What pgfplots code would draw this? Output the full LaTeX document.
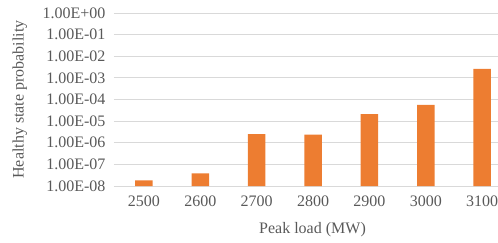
\documentclass[border=0pt]{standalone}
\usepackage{fontspec}
\setmainfont{Liberation Serif}
\usepackage{pgfplots}
\pgfplotsset{compat=1.18}
\definecolor{barorange}{HTML}{ED7D31}
\definecolor{gridgray}{HTML}{D9D9D9}
\definecolor{textgray}{HTML}{595959}
\begin{document}
\begin{tikzpicture}
\begin{axis}[
  scale only axis,
  width=384pt, height=173pt,
  ymode=log, log origin y=infty,
  ymin=1e-8, ymax=1,
  xmin=-0.53, xmax=6.28,
  ybar, bar width=17.5pt,
  ytick={1e-8,1e-7,1e-6,1e-5,1e-4,1e-3,1e-2,1e-1,1},
  yticklabels={1.00E-08,1.00E-07,1.00E-06,1.00E-05,1.00E-04,1.00E-03,1.00E-02,1.00E-01,1.00E+00},
  yminorticks=false,
  xtick={0,1,2,3,4,5,6},
  xticklabels={2500,2600,2700,2800,2900,3000,3100},
  ymajorgrids, grid style={gridgray, line width=0.8pt},
  axis x line*=bottom, axis y line*=left,
  x axis line style={gridgray, line width=0.8pt, -},
  y axis line style={draw=none},
  major tick length=0pt,
  tick label style={font=\fontsize{16}{18}\selectfont, text=textgray},
  xticklabel style={overlay, yshift=-6pt},
  yticklabel style={xshift=-5pt},
  xlabel={Peak load (MW)},
  ylabel={Healthy state probability},
  every axis x label/.style={at={(axis description cs:0.517,-0.254)}, anchor=center, font=\fontsize{16}{18}\selectfont, text=textgray},
  every axis y label/.style={at={(axis description cs:-0.245,0.5)}, rotate=90, anchor=center, font=\fontsize{16}{18}\selectfont, text=textgray},
]
\addplot[fill=barorange, draw=none] coordinates {
(0,1.8e-8) (1,3.8e-8) (2,2.5e-6) (3,2.4e-6) (4,2.1e-5) (5,5.6e-5) (6,2.6e-3)};
\end{axis}
\pgfresetboundingbox
\path (current axis.south west) ++(-114pt,-56pt) rectangle ++(498pt,242pt);
\end{tikzpicture}
\end{document}
